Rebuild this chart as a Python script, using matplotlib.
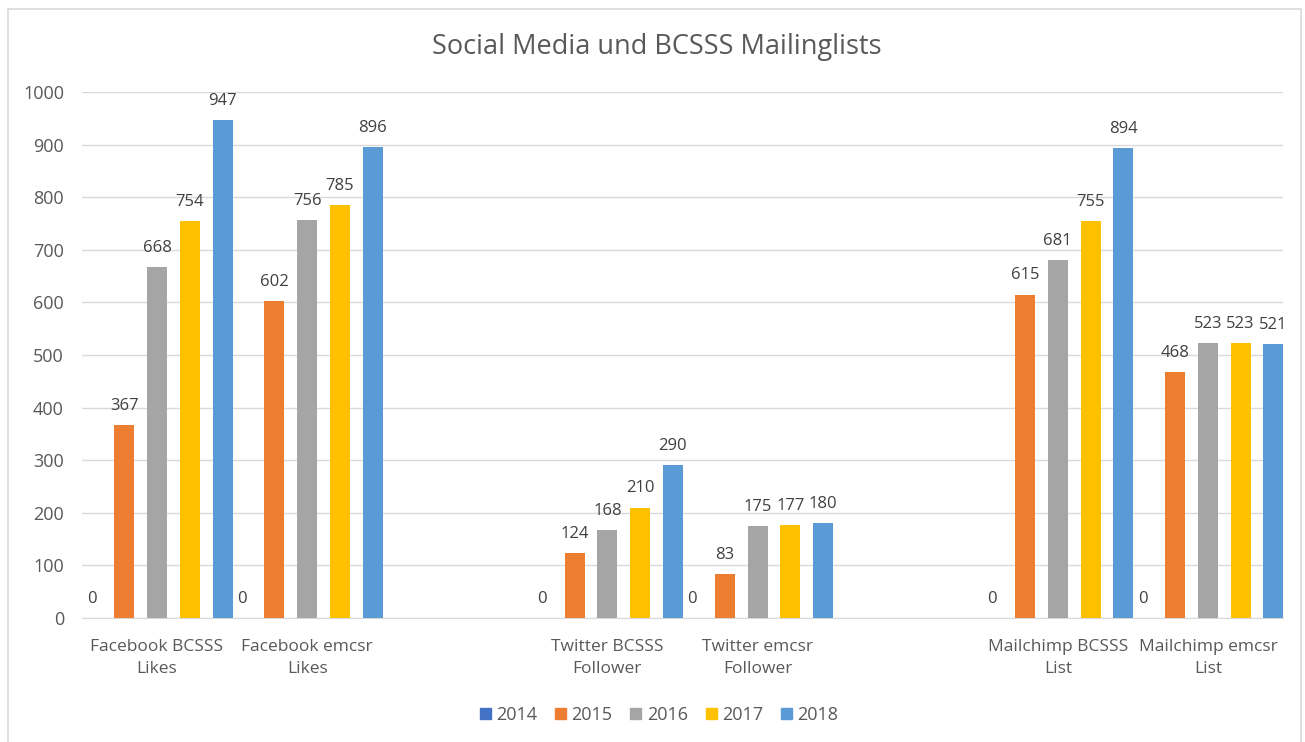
import numpy as np
import matplotlib
matplotlib.use('Agg')
import matplotlib.pyplot as plt
from matplotlib.patches import Rectangle, Patch

plt.rcParams['font.family'] = ['Open Sans', 'DejaVu Sans']

categories = ['Facebook BCSSS\nLikes', 'Facebook emcsr\nLikes',
              'Twitter BCSSS\nFollower', 'Twitter emcsr\nFollower',
              'Mailchimp BCSSS\nList', 'Mailchimp emcsr\nList']
# empty slots at 2 and 5 like in the original excel chart
cat_pos = [0, 1, 3, 4, 6, 7]

years = ['2014', '2015', '2016', '2017', '2018']
v2014 = [0, 0, 0, 0, 0, 0]
v2015 = [367, 602, 124, 83, 615, 468]
v2016 = [668, 756, 168, 175, 681, 523]
v2017 = [754, 785, 210, 177, 755, 523]
v2018 = [947, 896, 290, 180, 894, 521]
series = [v2014, v2015, v2016, v2017, v2018]
colors = ['#4472C4', '#ED7D31', '#A5A5A5', '#FFC000', '#5B9BD5']

txt = '#595959'

fig = plt.figure(figsize=(13.05, 7.42), dpi=100)
fig.patch.set_facecolor('white')
fig.patches.append(Rectangle((8/1305, -0.01), 1293/1305, 1 - 9/742 + 0.01,
                             transform=fig.transFigure, fill=False,
                             edgecolor='#d9d9d9', linewidth=1.2))

ax = fig.add_axes([82/1305, 1 - 618/742, 1201/1305, (618 - 92)/742])

pitch = 0.218
width = 0.133
x = np.array(cat_pos, dtype=float)
for j, (vals, c, y) in enumerate(zip(series, colors, years)):
    xs = x + (j - 2) * pitch
    ax.bar(xs, vals, width=width, color=c, label=y, zorder=3)
    for xi, v in zip(xs, vals):
        ax.annotate(str(v), (xi, v), xytext=(0, 8), textcoords='offset points',
                    ha='center', va='bottom', fontsize=12, color='#404040')

ax.set_xlim(-0.5, 7.5)
ax.set_ylim(0, 1000)
ax.set_yticks(range(0, 1001, 100))
ax.set_xticks(cat_pos)
ax.set_xticklabels(categories, linespacing=1.5)
ax.grid(axis='y', color='#d9d9d9', linewidth=1, zorder=0)
for s in ['top', 'right', 'left']:
    ax.spines[s].set_visible(False)
ax.spines['bottom'].set_color('#d9d9d9')
ax.tick_params(axis='both', length=0, colors=txt)
ax.tick_params(axis='y', pad=13, labelsize=13)
ax.tick_params(axis='x', pad=15, labelsize=12.5)
for lab in ax.get_yticklabels():
    lab.set_color(txt)
for lab in ax.get_xticklabels():
    lab.set_color(txt)

fig.text(0.503, 1 - 47/742, 'Social Media und BCSSS Mailinglists',
         ha='center', va='center', fontsize=19.5, color=txt)

handles = [Patch(color=c) for c in colors]
fig.legend(handles, years, loc='center', bbox_to_anchor=(0.505, 1 - 715/742),
           ncol=5, frameon=False, fontsize=13, handlelength=0.6,
           handleheight=0.6, handletextpad=0.3, columnspacing=1.0,
           labelcolor=txt)

fig.savefig('out.png', dpi=100, facecolor='white')
